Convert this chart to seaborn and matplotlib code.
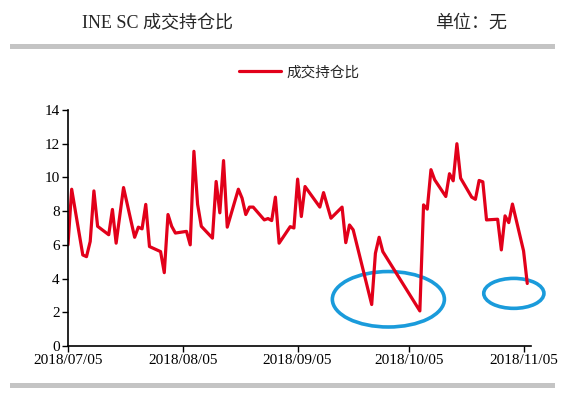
# -*- coding: utf-8 -*-
"""
INE SC 成交持仓比 - time series (2018/07 - 2018/11)
"""
import matplotlib
matplotlib.use("Agg")
import matplotlib.pyplot as plt
import matplotlib.dates as mdates
from matplotlib.patches import Ellipse
import seaborn as sns
import pandas as pd

# du lieu doc tu hinh (ngay giao dich, gia tri)
dates = [
    "2018-07-05", "2018-07-06", "2018-07-09", "2018-07-10", "2018-07-11", "2018-07-12",
    "2018-07-13", "2018-07-16", "2018-07-17", "2018-07-18", "2018-07-20", "2018-07-23",
    "2018-07-24", "2018-07-25", "2018-07-26", "2018-07-27", "2018-07-30", "2018-07-31",
    "2018-08-01", "2018-08-02", "2018-08-03", "2018-08-06", "2018-08-07", "2018-08-08",
    "2018-08-09", "2018-08-10", "2018-08-13", "2018-08-14", "2018-08-15", "2018-08-16",
    "2018-08-17", "2018-08-20", "2018-08-21", "2018-08-22", "2018-08-23", "2018-08-24",
    "2018-08-27", "2018-08-28", "2018-08-29", "2018-08-30", "2018-08-31", "2018-09-03",
    "2018-09-04", "2018-09-05", "2018-09-06", "2018-09-07", "2018-09-11", "2018-09-12",
    "2018-09-14", "2018-09-17", "2018-09-18", "2018-09-19", "2018-09-20", "2018-09-25",
    "2018-09-26", "2018-09-27", "2018-09-28", "2018-10-08", "2018-10-09", "2018-10-10",
    "2018-10-11", "2018-10-12", "2018-10-15", "2018-10-16", "2018-10-17", "2018-10-18",
    "2018-10-19", "2018-10-22", "2018-10-23", "2018-10-24", "2018-10-25", "2018-10-26",
    "2018-10-29", "2018-10-30", "2018-10-31", "2018-11-01", "2018-11-02", "2018-11-05",
    "2018-11-06",
]
ratio = [
    6.0, 9.3, 5.4, 5.3, 6.2, 9.2,
    7.1, 6.6, 8.1, 6.1, 9.4, 6.45,
    7.05, 6.95, 8.4, 5.9, 5.6, 4.35,
    7.8, 7.1, 6.7, 6.8, 6.0, 11.55,
    8.4, 7.1, 6.4, 9.76, 7.9, 11.0,
    7.05, 9.3, 8.77, 7.8, 8.24, 8.24,
    7.48, 7.56, 7.44, 8.83, 6.1, 7.08,
    7.0, 9.9, 7.68, 9.46, 8.24, 9.1,
    7.58, 8.24, 6.13, 7.18, 6.89, 2.46,
    5.5, 6.45, 5.6, 2.08, 8.37, 8.12,
    10.46, 9.86, 8.87, 10.22, 9.8, 12.0,
    9.96, 8.83, 8.7, 9.82, 9.74, 7.48,
    7.52, 5.7, 7.72, 7.32, 8.42, 5.64,
    3.71,
]
tick_dates = ["2018-07-05", "2018-08-05", "2018-09-05", "2018-10-05", "2018-11-05"]
y_ticks = [0, 2, 4, 6, 8, 10, 12, 14]

df = pd.DataFrame({"date": pd.to_datetime(dates), "成交持仓比": ratio})

sns.set_theme(style="ticks")
plt.rcParams["font.family"] = ["Liberation Serif", "Noto Sans CJK SC", "DejaVu Sans"]
plt.rcParams["axes.unicode_minus"] = False

fig = plt.figure(figsize=(5.84, 3.93), dpi=100)
ax = fig.add_axes([0.1164, 0.1196, 0.7928, 0.6005])

sns.lineplot(data=df, x="date", y="成交持仓比", ax=ax, color="#E2001A",
             linewidth=2.3, label="成交持仓比")

# truc
ax.set_xlim(pd.Timestamp("2018-07-05"), pd.Timestamp("2018-11-07"))
ax.set_ylim(0, 14)
ax.set_yticks(y_ticks)
ax.set_xticks(pd.to_datetime(tick_dates))
ax.xaxis.set_major_formatter(mdates.DateFormatter("%Y/%m/%d"))
ax.set_xlabel("")
ax.set_ylabel("")
for side in ["top", "right"]:
    ax.spines[side].set_visible(False)
for side in ["left", "bottom"]:
    ax.spines[side].set_color("black")
    ax.spines[side].set_linewidth(1.2)
ax.tick_params(axis="both", direction="out", length=4, width=1.0, colors="black",
               labelsize=11, pad=2)
for lbl in ax.get_xticklabels() + ax.get_yticklabels():
    lbl.set_fontfamily(["Liberation Serif"])

# chu thich
ax.legend(loc="center", bbox_to_anchor=(0.5, 1.16), frameon=False, handlelength=2.9,
          prop={"family": ["Noto Sans CJK SC"], "size": 10.5}, handletextpad=0.4)

# vong tron danh dau (mau xanh)
ax.add_patch(Ellipse((0.692, 0.198), 0.242, 0.235, transform=ax.transAxes,
                     fill=False, edgecolor="#1A9BDB", linewidth=2.6, clip_on=False))
ax.add_patch(Ellipse((0.963, 0.223), 0.13, 0.127, transform=ax.transAxes,
                     fill=False, edgecolor="#1A9BDB", linewidth=2.6, clip_on=False))

# tieu de va thanh xam
fig.text(0.14, 0.94, "INE SC 成交持仓比", fontsize=13, ha="left", va="center",
         family=["Liberation Serif", "Noto Sans CJK SC"])
fig.text(0.745, 0.94, "单位：无", fontsize=13, ha="left", va="center",
         family=["Liberation Serif", "Noto Sans CJK SC"])
fig.add_artist(plt.Rectangle((0.017, 0.876), 0.934, 0.013, transform=fig.transFigure,
                             color="#C4C4C4", lw=0))
fig.add_artist(plt.Rectangle((0.017, 0.013), 0.934, 0.013, transform=fig.transFigure,
                             color="#C4C4C4", lw=0))

fig.savefig("out.png", dpi=100)
